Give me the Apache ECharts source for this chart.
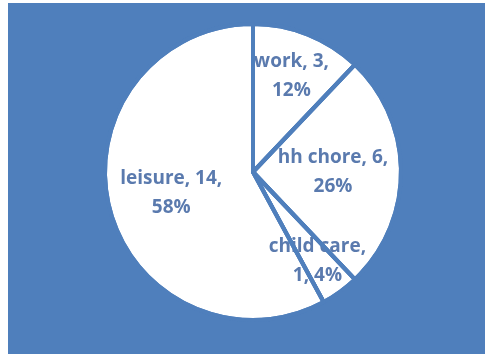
<!DOCTYPE html>
<html>
<head>
<meta charset="utf-8">
<script src="https://cdn.jsdelivr.net/npm/echarts@6/dist/echarts.min.js"></script>
<style>
  html, body { margin: 0; padding: 0; background: #ffffff; }
  #chart { position: absolute; left: 8px; top: 3px; width: 477px; height: 351px; }
</style>
</head>
<body>
<div id="chart"></div>
<script>
// Hours per day spent on each activity
const categories = ['work', 'hh chore', 'child care', 'leisure'];
const hours = [2.9, 6.2, 1.0, 13.9];

// How far out along the radius each label sits (fraction of radius)
const labelRadiusFrac = [0.68, 0.52, 0.72, 0.55];
// Where each label wraps: after the value (true) or after the name (false)
const wrapAfterValue = [true, true, false, true];

const BLUE = '#4F7FBC';
const TEXT = '#5A7AAE';
const R = 148;
const CENTER = [245, 169];

const total = hours.reduce((a, b) => a + b, 0);
let cum = 0;
const data = categories.map((name, i) => {
  const mid = (cum + hours[i] / 2) / total * 2 * Math.PI; // clockwise from 12 o'clock
  cum += hours[i];
  const shift = (labelRadiusFrac[i] - 0.5) * R;
  return {
    name,
    value: hours[i],
    label: { offset: [shift * Math.sin(mid), -shift * Math.cos(mid)] }
  };
});

const pieBase = {
  type: 'pie',
  center: CENTER,
  radius: [0, R],
  startAngle: 90,
  clockwise: true,
  avoidLabelOverlap: false,
  labelLine: { show: false },
  emphasis: { disabled: true },
  silent: true
};

const chart = echarts.init(document.getElementById('chart'));
chart.setOption({
  backgroundColor: BLUE,
  animation: false,
  series: [
    // white slices with their labels
    Object.assign({}, pieBase, {
      z: 2,
      data,
      itemStyle: { color: '#ffffff', borderColor: BLUE, borderWidth: 4 },
      label: {
        show: true,
        position: 'inside',
        color: TEXT,
        fontFamily: 'Open Sans',
        fontWeight: 'bold',
        fontSize: 19,
        lineHeight: 29,
        align: 'center',
        formatter: p => {
          const v = Math.round(p.value), pct = Math.round(p.percent) + '%';
          return wrapAfterValue[p.dataIndex]
            ? p.name + ', ' + v + ',\n' + pct
            : p.name + ',\n' + v + ', ' + pct;
        }
      }
    }),
    // slice separators drawn over the labels
    Object.assign({}, pieBase, {
      z: 5,
      data: categories.map((name, i) => ({ name, value: hours[i] })),
      itemStyle: { color: 'rgba(0,0,0,0)', borderColor: BLUE, borderWidth: 4 },
      label: { show: false }
    })
  ]
});
</script>
</body>
</html>
